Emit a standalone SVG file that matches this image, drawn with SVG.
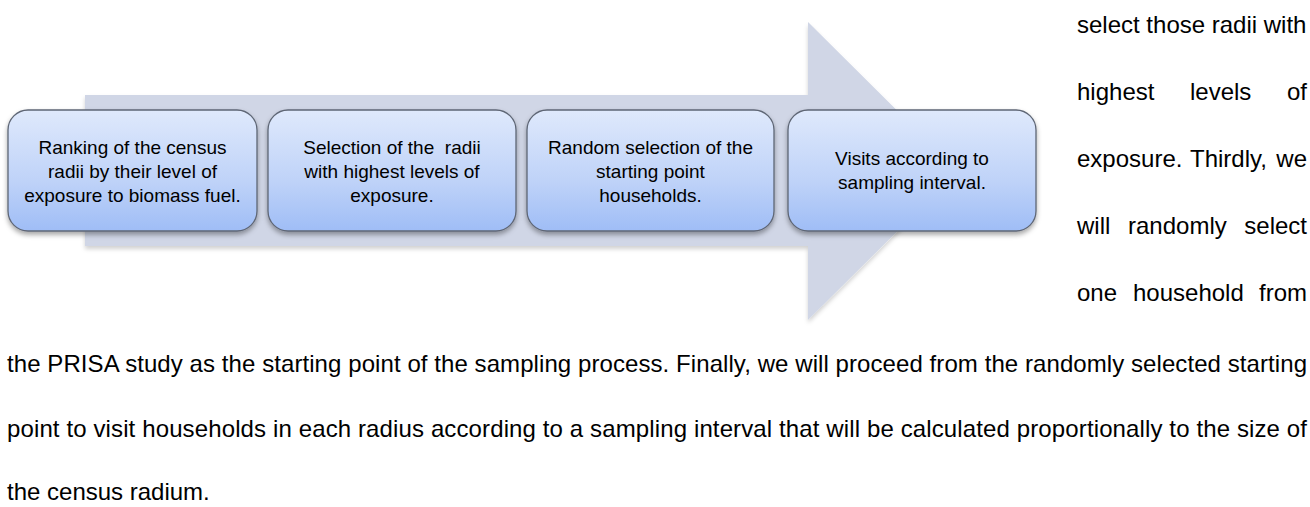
<svg xmlns="http://www.w3.org/2000/svg" width="1310" height="507" viewBox="0 0 1310 507">
<style>
.box{fill:url(#bg);stroke:#5e6675;stroke-width:1.3;filter:url(#sh)}
.bt{font-family:"Liberation Sans",Arial,sans-serif;font-size:19px;fill:#000;text-anchor:middle}
.body{font-family:"Liberation Sans",Arial,sans-serif;font-size:24px;fill:#000}
</style>
<defs>
<linearGradient id="bg" x1="0" y1="0" x2="0" y2="1">
<stop offset="0" stop-color="#dfe9fc"/>
<stop offset="0.6" stop-color="#bed2f8"/>
<stop offset="1" stop-color="#9fbdf6"/>
</linearGradient>
<filter id="sh" x="-10%" y="-10%" width="120%" height="130%">
<feDropShadow dx="0" dy="3" stdDeviation="2.5" flood-color="#000" flood-opacity="0.35"/>
</filter>
<filter id="ash" x="-5%" y="-5%" width="110%" height="115%">
<feDropShadow dx="0" dy="3" stdDeviation="2" flood-color="#000" flood-opacity="0.18"/>
</filter>
</defs>
<g id="arrow">
<polygon points="85,95 808,95 808,22 958,171 808,320 808,246 85,246" fill="#d0d6e6" filter="url(#ash)"/>
</g>
<g id="connectors"></g>
<g id="n1">
<rect class="box" x="8" y="110" width="249" height="121" rx="20"/>
<text class="bt" x="132.5" y="154">Ranking of the census</text>
<text class="bt" x="132.5" y="178">radii by their level of</text>
<text class="bt" x="132.5" y="202">exposure to biomass fuel.</text>
</g>
<g id="n2">
<rect class="box" x="268" y="110" width="248" height="121" rx="20"/>
<text class="bt" x="392" y="154" xml:space="preserve">Selection of the  radii</text>
<text class="bt" x="392" y="178">with highest levels of</text>
<text class="bt" x="392" y="202">exposure.</text>
</g>
<g id="n3">
<rect class="box" x="527" y="110" width="247" height="121" rx="20"/>
<text class="bt" x="650.5" y="154">Random selection of the</text>
<text class="bt" x="650.5" y="178">starting point</text>
<text class="bt" x="650.5" y="202">households.</text>
</g>
<g id="n4">
<rect class="box" x="788" y="110" width="248" height="121" rx="20"/>
<text class="bt" x="912" y="165">Visits according to</text>
<text class="bt" x="912" y="189">sampling interval.</text>
</g>
<g id="bodytext" class="body">
<text x="1077" y="33">select those radii with</text>
<text y="100"><tspan x="1077">highest</tspan><tspan x="1190">levels</tspan><tspan x="1307" text-anchor="end">of</tspan></text>
<text y="167"><tspan x="1077">exposure.</tspan><tspan x="1190">Thirdly,</tspan><tspan x="1307" text-anchor="end">we</tspan></text>
<text y="234"><tspan x="1077">will</tspan><tspan x="1128">randomly</tspan><tspan x="1307" text-anchor="end">select</tspan></text>
<text y="301"><tspan x="1077">one</tspan><tspan x="1133">household</tspan><tspan x="1307" text-anchor="end">from</tspan></text>
<text x="7" y="372" textLength="1300" lengthAdjust="spacing">the PRISA study as the starting point of the sampling process. Finally, we will proceed from the randomly selected starting</text>
<text x="7" y="437" textLength="1300" lengthAdjust="spacing">point to visit households in each radius according to a sampling interval that will be calculated proportionally to the size of</text>
<text x="7" y="500">the census radium.</text>
</g>
</svg>
